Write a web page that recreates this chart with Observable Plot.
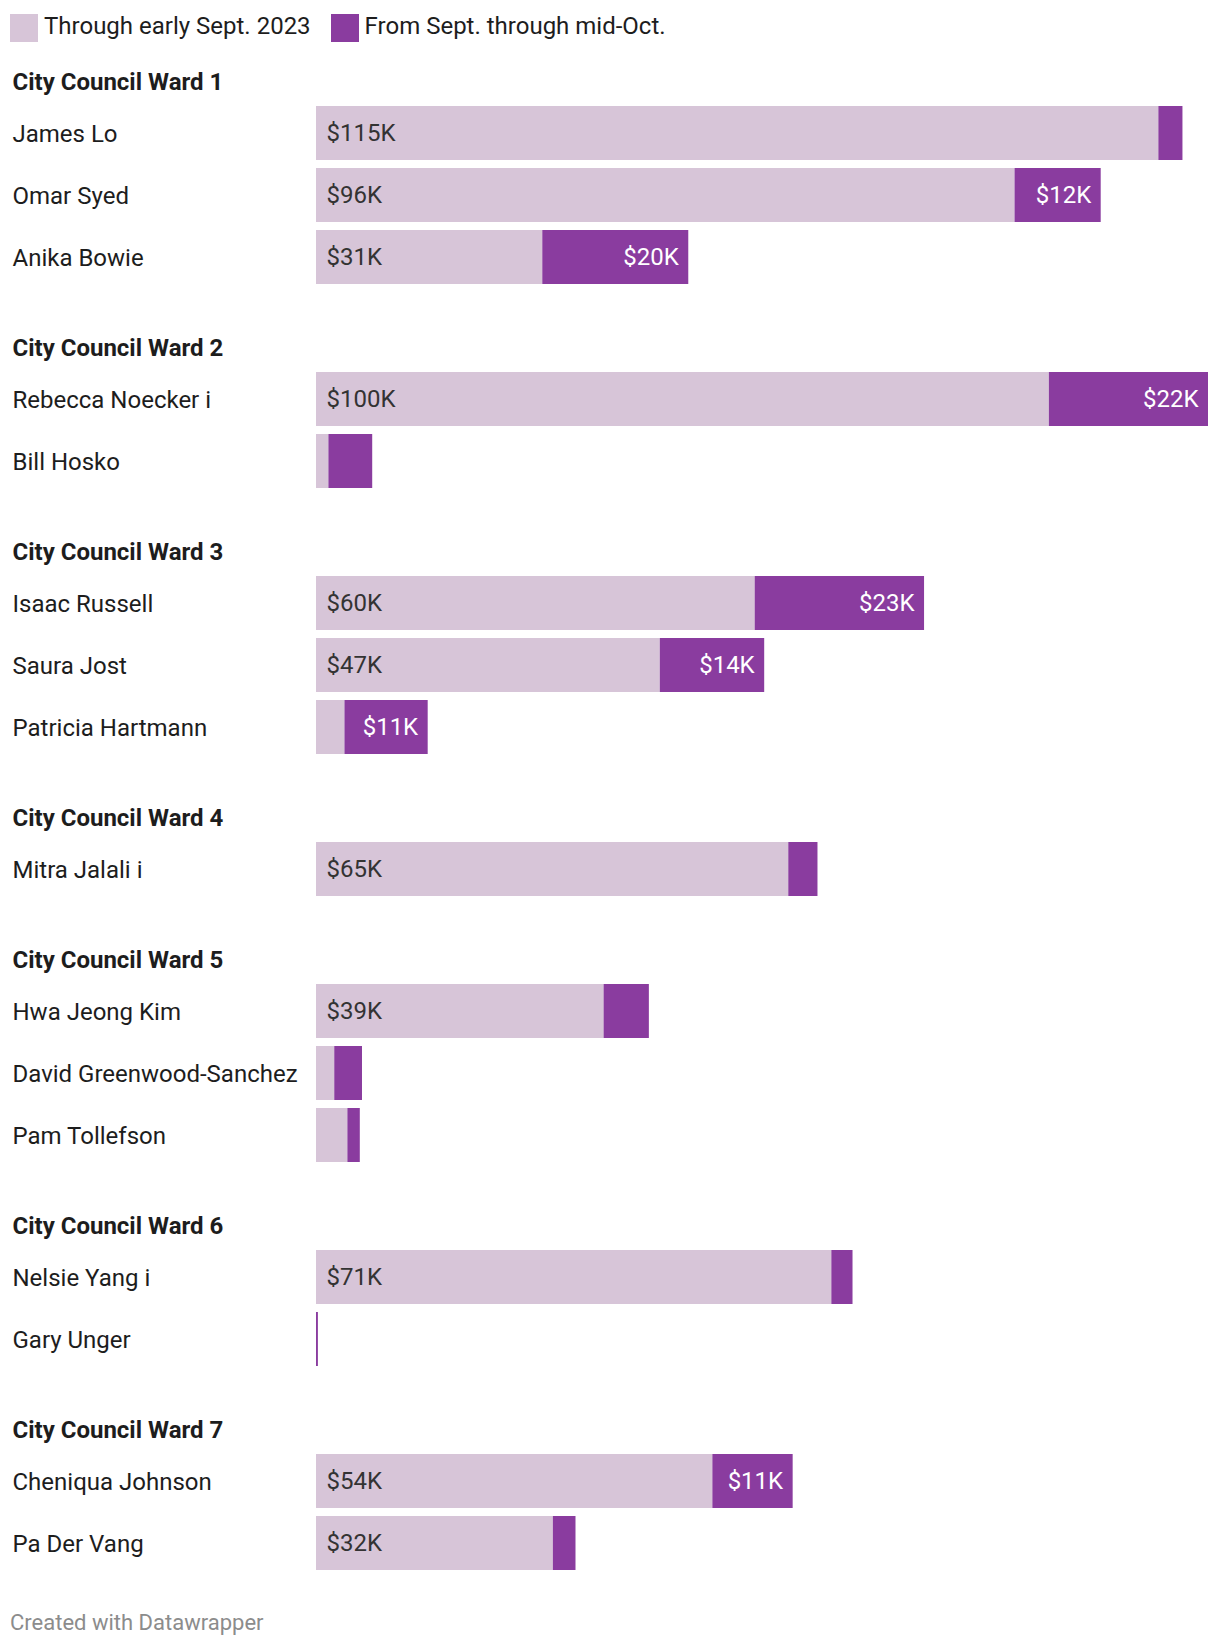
<!DOCTYPE html>
<html><head><meta charset="utf-8">
<script src="https://cdn.jsdelivr.net/npm/d3@7"></script>
<script src="https://cdn.jsdelivr.net/npm/@observablehq/plot@0.6"></script>
<style>
body{margin:0;background:#fff;font-family:Roboto,sans-serif;}
#legend{height:56px;display:flex;align-items:flex-start;padding-left:10px;}
.item{display:flex;align-items:center;margin-top:14px;height:28px;font-size:24px;color:#1d1d1d;margin-right:20px;white-space:nowrap}
.item span{position:relative;top:-2px}
.sw{width:28px;height:28px;margin-right:6px;flex:none}
#footer{font-size:22px;color:#8c8c8c;padding-left:10px;line-height:26px;padding-top:14px}
svg text{font-family:Roboto,sans-serif}
</style></head><body>
<div id="legend"></div><div id="chart"></div><div id="footer">Created with Datawrapper</div>
<script>
const series = ["Through early Sept. 2023", "From Sept. through mid-Oct."];
const wards = ["City Council Ward 1","City Council Ward 2","City Council Ward 3","City Council Ward 4","City Council Ward 5","City Council Ward 6","City Council Ward 7"];
const candidates = ["James Lo","Omar Syed","Anika Bowie","Rebecca Noecker i","Bill Hosko","Isaac Russell","Saura Jost","Patricia Hartmann","Mitra Jalali i","Hwa Jeong Kim","David Greenwood-Sanchez","Pam Tollefson","Nelsie Yang i","Gary Unger","Cheniqua Johnson","Pa Der Vang"];
const candidateWard = [1,1,1,2,2,3,3,3,4,5,5,5,6,6,7,7];
// thousands of dollars
const throughEarlySept = [115.4,95.7,31,100.4,1.7,60.1,47.1,3.9,64.7,39.4,2.5,4.3,70.6,0,54.3,32.45];
const septToMidOct = [3.3,11.8,20,21.8,6.0,23.2,14.3,11.4,4.0,6.2,3.8,1.7,2.9,0.26,11,3.1];

const colors = ["#d7c5d8", "#8a3c9f"];
const gapUnits = 80/62, barUnits = 54/62, headerOffset = 24/62;

const rows = candidates.map((name, i) => {
  const g = candidateWard[i] - 1;
  const top = i + g * gapUnits;
  const before = throughEarlySept[i], after = septToMidOct[i];
  return {name, g, top, mid: top + barUnits/2, bottom: top + barUnits, before, after, total: before + after};
});
const headers = wards.map((ward, g) => {
  const first = rows.find(r => r.g === g);
  return {ward, y: first.top - headerOffset};
});
const yMax = d3.max(rows, r => r.bottom);

// legend
const leg = document.getElementById("legend");
series.forEach((s, i) => {
  const it = document.createElement("div"); it.className = "item";
  const sw = document.createElement("div"); sw.className = "sw"; sw.style.background = colors[i];
  const t = document.createElement("span"); t.textContent = s;
  it.appendChild(sw); it.appendChild(t); leg.appendChild(it);
});

const fmt = v => `$${Math.round(v)}K`;
const chart = Plot.plot({
  width: 1220, height: 1540,
  marginLeft: 316, marginRight: 12, marginTop: 50, marginBottom: 26,
  x: {domain: [0, d3.max(rows, r => r.total)], axis: null},
  y: {domain: [0, yMax], reverse: true, axis: null},
  style: {fontFamily: "Roboto, sans-serif", fontSize: "24px", background: "#fff"},
  marks: [
    Plot.rect(rows, {x1: d => 0, x2: "before", y1: "top", y2: "bottom", fill: colors[0]}),
    Plot.rect(rows, {x1: "before", x2: "total", y1: "top", y2: "bottom", fill: colors[1]}),
    Plot.text(rows.filter(r => r.before >= 10), {x: d => 0, y: "mid", text: d => fmt(d.before), textAnchor: "start", dx: 10, fill: "#333", fontSize: 24}),
    Plot.text(rows.filter(r => r.after >= 10), {x: "total", y: "mid", text: d => fmt(d.after), textAnchor: "end", dx: -10, fill: "#fff", fontSize: 24}),
    Plot.text(rows, {frameAnchor: "left", y: "mid", text: "name", textAnchor: "start", dx: -304, dy: 1, fill: "#1d1d1d", fontSize: 24}),
    Plot.text(headers, {frameAnchor: "left", y: "y", text: "ward", textAnchor: "start", dx: -304, fill: "#1d1d1d", fontSize: 24, fontWeight: "bold"})
  ]
});
document.getElementById("chart").appendChild(chart);
</script>
</body></html>
